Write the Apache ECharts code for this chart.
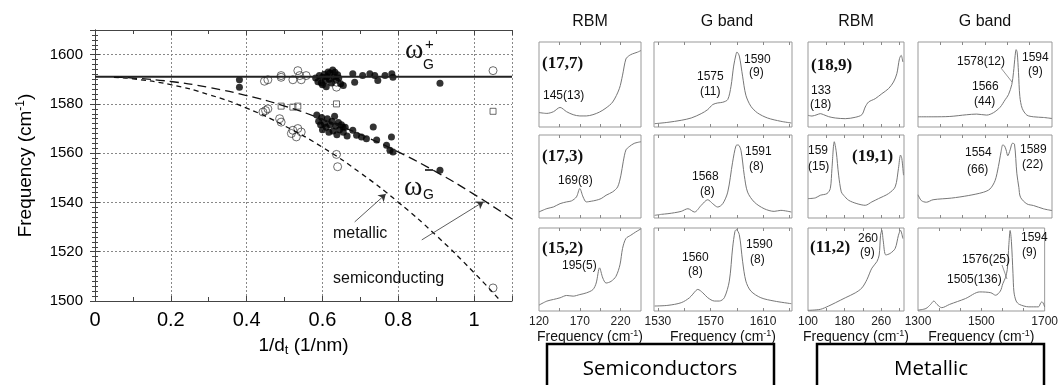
<!DOCTYPE html>
<html>
<head>
<meta charset="utf-8">
<script src="https://cdn.jsdelivr.net/npm/echarts@6/dist/echarts.min.js"></script>
<style>
  html, body { margin: 0; padding: 0; background: #fff; }
  #chart { width: 1061px; height: 385px; }
</style>
</head>
<body>
<div id="chart"></div>
<script>
// ---------- left plot: G band frequency vs 1/dt ----------
var gPlusLine = [[0, 1591], [1.1, 1591]];
// dashed curves
var curveLong = [[0.05, 1590.9], [0.1, 1590.5], [0.2, 1589.1], [0.3, 1586.7], [0.4, 1583.4], [0.5, 1579.1],
  [0.6, 1573.8], [0.7, 1567.6], [0.8, 1560.5], [0.9, 1552.4], [1.0, 1543.3], [1.1, 1533.3]];
var curveShort = [[0.05, 1590.8], [0.1, 1590.2], [0.2, 1587.8], [0.3, 1583.8], [0.4, 1578.3], [0.5, 1571.1],
  [0.6, 1562.4], [0.7, 1552], [0.8, 1540.1], [0.9, 1526.6], [1.0, 1511.5], [1.07, 1500]];

var filledDots = [
  [0.381, 1589.8], [0.381, 1586.8],
  [0.582, 1590.5], [0.588, 1589], [0.592, 1591.5], [0.597, 1588.5], [0.6, 1590.8], [0.605, 1592], [0.608, 1589.5],
  [0.612, 1591], [0.615, 1593], [0.618, 1590], [0.62, 1592.5], [0.624, 1588.5], [0.627, 1593.8], [0.63, 1591],
  [0.633, 1592.8], [0.636, 1589.8], [0.64, 1591.8], [0.643, 1590.5], [0.648, 1588.2], [0.655, 1587.5], [0.6, 1587.8],
  [0.61, 1587], [0.68, 1592.2], [0.685, 1588.8], [0.706, 1591.5], [0.725, 1592.2], [0.738, 1591.5], [0.746, 1589.5],
  [0.765, 1591.5], [0.783, 1592.2], [0.786, 1590.8], [0.91, 1588.4],
  [0.585, 1575.5], [0.59, 1573], [0.595, 1571.5], [0.598, 1574.5], [0.6, 1569.5], [0.605, 1572], [0.61, 1570.5],
  [0.613, 1574], [0.617, 1568.5], [0.62, 1571.5], [0.625, 1573], [0.628, 1569], [0.632, 1575], [0.635, 1571],
  [0.638, 1567.5], [0.642, 1572.5], [0.645, 1569.5], [0.65, 1571.5], [0.655, 1568.5], [0.66, 1570.5], [0.665, 1567],
  [0.654, 1570.6], [0.68, 1569.3], [0.69, 1567.3], [0.703, 1566.6], [0.716, 1565.9], [0.734, 1570.6], [0.743, 1565.3],
  [0.769, 1563.2], [0.778, 1561.2], [0.786, 1560.5], [0.782, 1566.6], [0.91, 1553.1]
];
var openCircles = [
  [0.447, 1589.2], [0.456, 1589.8], [0.491, 1591.5], [0.491, 1590.8], [0.522, 1589.8], [0.535, 1593.5], [0.54, 1591.5],
  [0.544, 1589.8], [0.557, 1591.5], [0.637, 1588.8], [0.637, 1586.8], [1.05, 1593.5],
  [0.443, 1576.7], [0.456, 1578], [0.45, 1577.3], [0.487, 1574], [0.491, 1572.6], [0.522, 1569.3], [0.535, 1570],
  [0.544, 1568.6], [0.531, 1566.6], [0.518, 1568], [0.637, 1559.5], [0.64, 1554.5], [1.05, 1505.3]
];
var openSquares = [[0.491, 1579.1], [0.522, 1578.7], [0.535, 1579.1], [0.637, 1580], [1.05, 1577]];

// ---------- right panels: Raman spectra (intensity in arbitrary units) ----------
var rbm177 = [[120, 17], [129.6, 16], [137.7, 18], [145.8, 23], [153.8, 18], [161.9, 14.5], [170, 13], [178, 13],
  [186.1, 14.5], [194.2, 17.6], [202.2, 22.4], [210.3, 29.4], [218.4, 45], [222.4, 61], [226.5, 80], [230.5, 84],
  [234.5, 86], [240.6, 88], [245, 90]];
var rbm173 = [[120, 7.3], [129.6, 11.3], [137.7, 13.3], [145.8, 17.3], [153.8, 19.4], [159.8, 20.6], [165.9, 25.4],
  [170, 35.5], [174, 25.4], [178, 19.4], [184, 20.2], [190.1, 21.4], [196.2, 23.4], [202.2, 27.4], [210.3, 31.5],
  [216.4, 37.5], [220.4, 51.6], [223.2, 67.7], [226.5, 81.9], [230.5, 85.9], [236.6, 89.9], [245, 91.9]];
var rbm152 = [[120, 7.1], [129.6, 11.9], [137.7, 13.9], [145.8, 15.9], [153.8, 18.7], [161.9, 17.9], [170, 19.8],
  [178, 21.8], [186.1, 25.8], [190.1, 33.7], [194.2, 52], [198.2, 39.7], [202.2, 33.7], [208.3, 35.7], [214.3, 41.7],
  [219.2, 55.6], [222.4, 75.4], [226.5, 87.3], [232.5, 91.3], [238.5, 95.2], [245, 99]];

var g177 = [[1527.5, 3.9], [1537.6, 5.5], [1547.7, 7.9], [1555.3, 10.6], [1562.9, 15.7], [1567.9, 20.5], [1571.7, 26.4],
  [1575.5, 28.3], [1579.3, 29.1], [1583.1, 32.3], [1585.6, 48], [1587.6, 71.7], [1589.4, 85.4], [1590.1, 88.2],
  [1591.9, 83.5], [1594.4, 59.8], [1596.9, 37.4], [1600.7, 24.4], [1605.8, 16.5], [1613.4, 10.6], [1623.5, 6.7],
  [1631.5, 4.7]];
var g173 = [[1527.5, 3.2], [1532.6, 4.4], [1537.6, 5.2], [1542.7, 6.4], [1547.7, 8], [1552.8, 11.2], [1557.8, 7.2],
  [1562.9, 15.2], [1567.9, 22], [1571.7, 17.2], [1575.5, 13.2], [1579.3, 17.2], [1583.1, 31.2], [1586.8, 67.2],
  [1589.4, 87.2], [1591.1, 88], [1593.2, 81.2], [1595.7, 51.2], [1598.2, 31.2], [1603.3, 19.2], [1610.8, 11.2],
  [1618.4, 8], [1623.5, 9.2], [1631.5, 7.2]];
var g152 = [[1527.5, 6], [1537.6, 6.8], [1547.7, 10], [1554, 16], [1559, 24.8], [1560.3, 26], [1564.1, 22],
  [1567.9, 16], [1573, 12], [1576.7, 12], [1580.5, 16], [1584.3, 36], [1586.8, 76], [1588.6, 96], [1589.6, 98],
  [1591.9, 92], [1594.4, 60], [1596.9, 36], [1600.7, 24], [1608.3, 16], [1618.4, 12], [1631.5, 8.8]];

var rbm189 = [[100, 13.7], [108.7, 12.9], [119.7, 14.5], [126.9, 15.7], [134.2, 14.5], [145.1, 12.2], [159.7, 10.6],
  [181.5, 9.8], [203.3, 11.4], [217.9, 14.5], [225.2, 23.5], [232.5, 29.4], [247, 33.3], [261.6, 39.2], [276.1, 45.1],
  [287, 52.9], [294.3, 62.7], [300.1, 80.4], [303.8, 84.3], [307.4, 76.5]];
var rbm191 = [[100, 23.4], [116, 24.2], [126.9, 27.4], [141.5, 29.4], [148.8, 35.5], [152.4, 59.7], [157.5, 91.9],
  [161.8, 79.8], [167, 51.6], [172.8, 31.5], [177.9, 27.4], [188.8, 21.4], [207, 17.3], [225.2, 15.3], [239.7, 19.4],
  [254.4, 23.4], [276.1, 29.4], [290.7, 37.5], [297.9, 59.7], [302.4, 75.8], [305.2, 71.8], [308.9, 51.6]];
var rbm112 = [[100, 0.8], [126.9, 2], [145.1, 6], [159.7, 9.9], [181.5, 15.9], [203.3, 21.8], [217.9, 27.8],
  [228.8, 37.7], [239.7, 51.6], [250.7, 59.5], [255.7, 67.5], [258.7, 91.3], [261.6, 97.2], [264.4, 85.3],
  [270.3, 67.5], [279.8, 69.4], [290.7, 75.4], [297.9, 91.3], [302.4, 97.2], [307.4, 87.3]];

var g189 = [[1300, 12], [1345, 12], [1395, 12.4], [1445, 14.4], [1475, 15.2], [1505, 14], [1525, 16.8], [1545, 23.2],
  [1560, 32], [1570, 38], [1580, 50], [1585, 64], [1590, 84], [1593, 91], [1596, 88], [1600, 64], [1604, 36],
  [1611, 22], [1625, 14], [1645, 12], [1675, 11.2], [1700, 10]];
var g191 = [[1300, 28], [1310, 21], [1325, 19], [1345, 22], [1400, 24], [1450, 27], [1495, 31], [1515, 35],
  [1530, 45], [1540, 62], [1548, 80], [1553, 88], [1558, 87], [1563, 82], [1568, 75], [1575, 82], [1582, 90],
  [1588, 89], [1595, 54], [1601, 37], [1606, 25], [1625, 17], [1645, 15], [1675, 11], [1700, 9]];
var g112 = [[1300, 1], [1325, 3], [1340, 8], [1350, 12], [1360, 8], [1375, 4], [1400, 8], [1450, 15], [1495, 23],
  [1530, 22], [1545, 19], [1560, 24], [1568, 33], [1576, 40], [1582, 50], [1587, 80], [1591, 97], [1595, 84],
  [1600, 45], [1603, 23], [1610, 12], [1620, 8], [1650, 5], [1680, 5], [1688, 10], [1692, 11], [1700, 5]];

var panelSpectra = [
  [rbm177, g177, rbm189, g189],
  [rbm173, g173, rbm191, g191],
  [rbm152, g152, rbm112, g112]
];
var colRange = [[120, 245], [1527, 1632], [100, 310], [1300, 1700]];
var colTicks = [[145, 170, 195, 220], [1530, 1550, 1570, 1590, 1610, 1630], [140, 180, 220, 260, 300],
  [1367, 1433, 1500, 1567, 1633]];
var colLabels = [[120, 170, 220], [1530, 1570, 1610], [100, 180, 260], [1300, 1500, 1700]];
var colTitles = ['RBM', 'G band', 'RBM', 'G band'];

// ---------- layout ----------
var SANS = '"Liberation Sans", Arial, Helvetica, sans-serif';
var SERIF = '"Liberation Serif", "Times New Roman", serif';
var colLeft = [539, 654, 808, 918];
var colWidth = [102, 138, 96, 134];
var rowTop = [42, 135, 228];
var rowHeight = [85, 83, 83];
function plain(v) { return String(v); }

var grids = [{left: 95, top: 30, width: 417, height: 271}];
var xAxes = [
  {
    type: 'value', gridIndex: 0, min: 0, max: 1.1, interval: 0.2,
    axisLine: {lineStyle: {color: '#444', width: 1}},
    axisTick: {inside: true, length: 5, lineStyle: {color: '#444'}},
    minorTick: {show: true, splitNumber: 2, length: 4, lineStyle: {color: '#444'}},
    axisLabel: {fontSize: 20, color: '#000', fontFamily: SANS, margin: 9, showMaxLabel: false},
    splitLine: {show: true, lineStyle: {type: [2, 2], color: '#888'}},
    name: '1/d{sub|t} (1/nm)', nameLocation: 'middle', nameGap: 34,
    nameTextStyle: {fontSize: 19, color: '#000', fontFamily: SANS,
      rich: {sub: {fontSize: 13, fontFamily: SANS, color: '#000', padding: [9, 0, 0, 0]}}}
  },
  {
    type: 'value', gridIndex: 0, position: 'top', min: 0, max: 1.1, interval: 0.2,
    axisLine: {lineStyle: {color: '#444', width: 1}},
    axisTick: {inside: true, length: 5, lineStyle: {color: '#444'}},
    minorTick: {show: true, splitNumber: 2, length: 4, lineStyle: {color: '#444'}},
    axisLabel: {show: false}, splitLine: {show: false}
  }
];
var yAxes = [
  {
    type: 'value', gridIndex: 0, min: 1500, max: 1610, interval: 20,
    axisLine: {lineStyle: {color: '#444', width: 1}},
    axisTick: {inside: true, length: 5, lineStyle: {color: '#444'}},
    minorTick: {show: true, splitNumber: 10, length: 3, lineStyle: {color: '#444'}},
    axisLabel: {fontSize: 15, color: '#000', fontFamily: SANS, margin: 12, showMaxLabel: false, formatter: plain},
    splitLine: {show: true, lineStyle: {type: [2, 2], color: '#888'}},
    name: 'Frequency (cm{sup|-1})', nameLocation: 'middle', nameGap: 58, nameRotate: 90,
    nameTextStyle: {fontSize: 19, color: '#000', fontFamily: SANS,
      rich: {sup: {fontSize: 12, fontFamily: SANS, color: '#000', padding: [0, 0, 10, 0]}}}
  },
  {
    type: 'value', gridIndex: 0, position: 'right', min: 1500, max: 1610, interval: 20,
    axisLine: {show: true, lineStyle: {color: '#444', width: 1}},
    axisTick: {inside: true, length: 5, lineStyle: {color: '#444'}},
    minorTick: {show: true, splitNumber: 10, length: 3, lineStyle: {color: '#444'}},
    axisLabel: {show: false}, splitLine: {show: false}
  }
];

var series = [
  {
    type: 'line', xAxisIndex: 0, yAxisIndex: 0, data: gPlusLine, symbol: 'none',
    lineStyle: {color: '#222', width: 2},
    markLine: {
      silent: true, symbol: ['none', 'arrow'], symbolSize: 7,
      label: {show: false},
      lineStyle: {color: '#333', width: 0.8, type: 'solid'},
      data: [
        [{coord: [0.685, 1532.1]}, {coord: [0.767, 1543.4]}],
        [{coord: [0.862, 1524.8]}, {coord: [1.025, 1540.3]}]
      ]
    }
  },
  {type: 'line', xAxisIndex: 0, yAxisIndex: 0, data: curveLong, symbol: 'none', smooth: true,
    lineStyle: {color: '#111', width: 1.3, type: [9, 5]}},
  {type: 'line', xAxisIndex: 0, yAxisIndex: 0, data: curveShort, symbol: 'none', smooth: true,
    lineStyle: {color: '#111', width: 1.3, type: [5, 4]}},
  {type: 'scatter', xAxisIndex: 0, yAxisIndex: 0, data: openCircles, symbol: 'circle', symbolSize: 8,
    itemStyle: {color: 'rgba(0,0,0,0)', borderColor: '#333', borderWidth: 0.9}},
  {type: 'scatter', xAxisIndex: 0, yAxisIndex: 0, data: openSquares, symbol: 'rect', symbolSize: 6,
    itemStyle: {color: 'rgba(0,0,0,0)', borderColor: '#333', borderWidth: 0.9}},
  {type: 'scatter', xAxisIndex: 0, yAxisIndex: 0, data: filledDots, symbol: 'circle', symbolSize: 7,
    itemStyle: {color: '#000'}}
];

for (var r = 0; r < 3; r++) {
  for (var c = 0; c < 4; c++) {
    var gi = grids.length;
    grids.push({left: colLeft[c], top: rowTop[r], width: colWidth[c], height: rowHeight[r],
      show: true, borderColor: '#999', borderWidth: 1, backgroundColor: 'transparent'});
    var bottom = {
      type: 'value', gridIndex: gi, min: colRange[c][0], max: colRange[c][1],
      axisLine: {show: false},
      axisTick: {show: true, inside: true, length: 3, customValues: colTicks[c], lineStyle: {color: '#888'}},
      axisLabel: {show: r === 2, customValues: colLabels[c], fontSize: 12, color: '#222', fontFamily: SANS,
        margin: 5, formatter: plain},
      splitLine: {show: false}
    };
    if (r === 2) {
      bottom.name = 'Frequency (cm{sup|-1})';
      bottom.nameLocation = 'middle';
      bottom.nameGap = 16;
      bottom.nameTextStyle = {fontSize: 14, color: '#111', fontFamily: SANS,
        rich: {sup: {fontSize: 9, fontFamily: SANS, color: '#111', padding: [0, 0, 8, 0]}}};
    }
    xAxes.push(bottom);
    xAxes.push({
      type: 'value', gridIndex: gi, position: 'top', min: colRange[c][0], max: colRange[c][1],
      axisLine: {show: false},
      axisTick: {show: true, inside: true, length: 3, customValues: colTicks[c], lineStyle: {color: '#888'}},
      axisLabel: {show: false}, splitLine: {show: false}
    });
    yAxes.push({type: 'value', gridIndex: gi, min: 0, max: 100, show: false});
    series.push({
      type: 'line', xAxisIndex: xAxes.length - 2, yAxisIndex: yAxes.length - 1,
      data: panelSpectra[r][c], symbol: 'none', smooth: 0.3, clip: true,
      lineStyle: {color: '#777', width: 1}
    });
  }
}

// ---------- annotations ----------
function txt(s, x, y, size, opt) {
  opt = opt || {};
  return {
    type: 'text', x: x, y: y, silent: true, z: 10,
    style: {
      text: s, fill: opt.color || '#111',
      font: (opt.weight || 'normal') + ' ' + size + 'px ' + (opt.family || SANS),
      textAlign: opt.align || 'left', textVerticalAlign: 'middle'
    }
  };
}
function seg(x1, y1, x2, y2, w, color) {
  return {type: 'line', silent: true, z: 10, shape: {x1: x1, y1: y1, x2: x2, y2: y2},
    style: {stroke: color || '#555', lineWidth: w || 0.8}};
}

var graphics = [];
var titleX = [590, 727, 856, 985];
for (var k = 0; k < 4; k++) graphics.push(txt(colTitles[k], titleX[k], 22, 16, {align: 'center'}));

var bold = {weight: 'bold', family: SERIF};
graphics.push(
  txt('(17,7)', 542, 64, 17, bold), txt('145(13)', 543, 96, 12),
  txt('(17,3)', 542, 157, 17, bold), txt('169(8)', 558, 181, 12),
  txt('(15,2)', 542, 249, 17, bold), txt('195(5)', 562, 266, 12),

  txt('1575', 697, 77, 12), txt('(11)', 700, 92, 12),
  txt('1590', 744, 60, 12), txt('(9)', 749, 73, 12),
  txt('1568', 692, 177, 12), txt('(8)', 700, 192, 12),
  txt('1591', 745, 152, 12), txt('(8)', 749, 167, 12),
  txt('1560', 682, 258, 12), txt('(8)', 688, 272, 12),
  txt('1590', 746, 245, 12), txt('(8)', 750, 260, 12),

  txt('(18,9)', 811, 66, 17, bold), txt('133', 811, 91, 12), txt('(18)', 810, 105, 12),
  txt('159', 808, 151, 12), txt('(15)', 808, 167, 12), txt('(19,1)', 852, 157, 17, bold),
  txt('(11,2)', 810, 248, 17, bold), txt('260', 858, 239, 12), txt('(9)', 860, 253, 12),

  txt('1578(12)', 957, 62, 12), txt('1566', 972, 87, 12), txt('(44)', 974, 102, 12),
  txt('1594', 1022, 58, 12), txt('(9)', 1028, 72, 12),
  seg(1001, 68, 1012, 82, 0.7, '#666'),
  txt('1554', 965, 153, 12), txt('(66)', 967, 170, 12),
  txt('1589', 1020, 150, 12), txt('(22)', 1022, 165, 12),
  txt('1594', 1021, 238, 12), txt('(9)', 1022, 253, 12),
  txt('1576(25)', 962, 260, 12), txt('1505(136)', 947, 280, 12),
  seg(1002, 265, 1007, 279, 0.7, '#666')
);

// omega labels and curve names in the left plot
graphics.push(
  txt('\u03c9', 405, 51, 28, {family: SERIF}), txt('G', 423, 65, 14), txt('+', 425, 45, 15),
  txt('\u03c9', 404, 188, 28, {family: SERIF}), txt('G', 423, 195, 14),
  seg(425, 170, 433, 170, 1.6, '#111'),
  txt('metallic', 333, 234, 16), txt('semiconducting', 333, 279, 16)
);

// category boxes below the spectra
var boxFont = '"Open Sans", "Noto Sans", sans-serif';
graphics.push(
  {type: 'rect', silent: true, shape: {x: 547, y: 344, width: 227, height: 60},
    style: {fill: 'none', stroke: '#000', lineWidth: 2.5}},
  {type: 'rect', silent: true, shape: {x: 817, y: 344, width: 227, height: 60},
    style: {fill: 'none', stroke: '#000', lineWidth: 2.5}},
  txt('Semiconductors', 660, 369, 20.5, {align: 'center', family: boxFont, color: '#000'}),
  txt('Metallic', 931, 369, 20.5, {align: 'center', family: boxFont, color: '#000'})
);

var chart = echarts.init(document.getElementById('chart'));
chart.setOption({
  animation: false,
  backgroundColor: '#fff',
  grid: grids,
  xAxis: xAxes,
  yAxis: yAxes,
  series: series,
  graphic: graphics
});
</script>
</body>
</html>
